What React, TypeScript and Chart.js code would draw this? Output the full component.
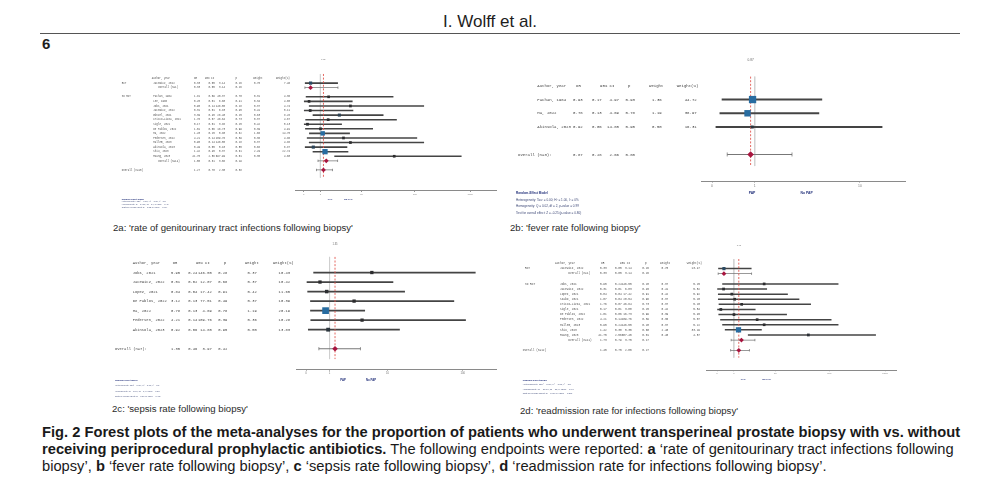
import React, { useEffect, useRef } from 'react';
import { Chart, registerables } from 'chart.js';

Chart.register(...registerables);

// ---------------- shared text ----------------
const HEADERS = ['Author, year', 'OR', '95% CI', 'p', 'Weight', 'Weight(%)'];
const AXIS_LABELS = ['PAP', 'No PAP'];
const MODEL_TITLE = 'Random-Effect Model';

// ---------------- 2a ----------------
const A_NAME = ['Jacewicz, 2022', 'Overall (n=1)', 'Pachan, 1984', 'Lee, 1986', 'Jobs, 2021', 'Jacewicz, 2022', 'Günzel, 2021', 'Cricco-Lizza, 2021', 'Sigle, 2021', 'De Pablos, 2022', 'Ma, 2022', 'Pedersen, 2022', 'Mallem, 2023', 'Akinsola, 2023', 'Shiu, 2023', 'Huang, 2023', 'Overall (n=14)', 'Overall (n=15)'];
const A_KIND = ['s', 'sub', 's', 's', 's', 's', 's', 's', 's', 's', 's', 's', 's', 's', 's', 's', 'sub', 'tot'];
const A_GROUP = ['RCT', '', 'no RCT', '', '', '', '', '', '', '', '', '', '', '', '', '', '', ''];
const A_OR = [0.33, 0.33, 1.81, 0.25, 5.95, 0.31, 3.39, 1.76, 0.17, 1.01, 1.20, 4.21, 5.95, 0.49, 1.42, 41.75, 1.55, 1.27];
const A_LO = [0.05, 0.05, 0.09, 0.01, 0.24, 0.01, 0.45, 0.07, 0.01, 0.06, 0.25, 0.14, 0.24, 0.05, 0.45, 2.56, 0.81, 0.70];
const A_HI = [3.14, 3.14, 40.37, 6.60, 146.55, 6.83, 26.40, 46.64, 3.88, 16.73, 5.80, 109.76, 146.55, 5.10, 5.37, 697.99, 3.08, 2.30];
const A_P = [0.26, 0.26, 0.70, 0.41, 0.28, 0.45, 0.25, 0.73, 0.25, 0.99, 0.82, 0.39, 0.28, 0.55, 0.61, 0.01, 0.19, 0.38];
const A_W = [0.75, null, 0.31, 0.34, 0.37, 0.41, 0.63, 0.37, 0.42, 0.39, 1.66, 0.36, 0.37, 0.68, 2.29, 0.35, null, null];
const A_WP = [7.46, null, 4.36, 4.65, 4.74, 5.11, 8.28, 4.67, 5.13, 4.91, 14.75, 4.86, 4.88, 6.87, 22.74, 4.60, null, null];
const A_TICKS = [0, 1, 10, 100, 1000];
const A_STATS = ['Heterogeneity: Tau² = 0.00; H² = 1.00, I² = 0%', 'Homogeneity: Q = 14.71, df = 14, p-value = 0.40', 'Test for overall effect: Z = 0.83 (p-value = 0.41)'];

// ---------------- 2b ----------------
const B_NAME = ['Pachan, 1984', 'Ma, 2022', 'Akinsola, 2023', 'Overall (n=3):'];
const B_KIND = ['s', 's', 's', 'tot'];
const B_GROUP = ['', '', '', ''];
const B_OR = [0.93, 0.78, 0.92, 0.87];
const B_LO = [0.17, 0.13, 0.06, 0.28];
const B_HI = [4.97, 4.69, 14.85, 2.66];
const B_P = [0.93, 0.78, 0.95, 0.80];
const B_W = [1.36, 1.19, 0.50, null];
const B_WP = [44.72, 38.97, 16.31, null];
const B_TICKS = [0, 1, 10];
const B_STATS = ['Heterogeneity: Tau² = 0.00; H² = 1.00, I² = 0%', 'Homogeneity: Q = 0.02, df = 2, p-value = 0.99', 'Test for overall effect: Z = -0.25 (p-value = 0.80)'];

// ---------------- 2c ----------------
const C_NAME = ['Jobs, 2021', 'Jacewicz, 2022', 'Lopez, 2021', 'De Pablos, 2022', 'Ma, 2022', 'Pedersen, 2022', 'Akinsola, 2023', 'Overall (n=7):'];
const C_KIND = ['s', 's', 's', 's', 's', 's', 's', 'tot'];
const C_GROUP = ['', '', '', '', '', '', '', ''];
const C_OR = [5.95, 0.51, 0.84, 3.12, 0.78, 4.21, 0.92, 1.35];
const C_LO = [0.24, 0.02, 0.04, 0.13, 0.13, 0.14, 0.06, 0.46];
const C_HI = [146.55, 12.07, 17.42, 77.51, 4.69, 109.76, 14.85, 3.97];
const C_P = [0.28, 0.68, 0.91, 0.49, 0.78, 0.39, 0.95, 0.42];
const C_W = [0.37, 0.37, 0.42, 0.37, 1.19, 0.36, 0.50, null];
const C_WP = [10.43, 10.42, 11.65, 10.39, 20.19, 10.28, 13.83, null];
const C_TICKS = [0, 1, 10, 100];
const C_STATS = ['Heterogeneity: Tau² = 0.00; H² = 1.00, I² = 0%', 'Homogeneity: Q = 2.40, df = 6, p-value = 0.88', 'Test for overall effect: Z = 0.80 (p-value = 0.42)'];

// ---------------- 2d ----------------
const D_NAME = ['Jacewicz, 2022', 'Overall (n=1)', 'Jobs, 2021', 'Jacewicz, 2022', 'Lopez, 2021', 'Szabo, 2021', 'Cricco-Lizza, 2021', 'Sigle, 2021', 'De Pablos, 2022', 'Pedersen, 2022', 'Mallem, 2023', 'Shiu, 2023', 'Huang, 2023', 'Overall (n=11)', 'Overall (n=12)'];
const D_KIND = ['s', 'sub', 's', 's', 's', 's', 's', 's', 's', 's', 's', 's', 's', 'sub', 'tot'];
const D_GROUP = ['RCT', '', 'no RCT', '', '', '', '', '', '', '', '', '', '', '', ''];
const D_OR = [0.33, 0.33, 5.95, 0.31, 0.84, 1.07, 1.76, 0.17, 1.01, 4.21, 5.95, 1.42, 41.75, 1.73, 1.45];
const D_LO = [0.05, 0.05, 0.24, 0.01, 0.04, 0.04, 0.07, 0.01, 0.06, 0.14, 0.24, 0.38, 2.56, 0.79, 0.75];
const D_HI = [3.14, 3.14, 146.55, 6.83, 17.42, 28.54, 46.64, 3.88, 16.73, 109.76, 146.55, 5.30, 687.40, 3.75, 2.80];
const D_P = [0.26, 0.26, 0.28, 0.45, 0.91, 0.96, 0.73, 0.25, 0.99, 0.39, 0.28, 0.60, 0.01, 0.17, 0.27];
const D_W = [0.75, null, 0.37, 0.41, 0.42, 0.37, 0.37, 0.42, 0.39, 0.36, 0.37, 2.40, 0.45, null, null];
const D_WP = [13.47, null, 5.25, 5.82, 5.92, 5.20, 5.20, 5.84, 5.45, 5.07, 5.22, 33.29, 4.87, null, null];
const D_TICKS = [0, 1, 10, 100, 1000];
const D_STATS = ['Heterogeneity: Tau² = 0.00; H² = 1.00, I² = 0%', 'Homogeneity: Q = 10.84, df = 11, p-value = 0.46', 'Test for overall effect: Z = 1.08 (p-value = 0.28)'];

// ---------------- captions ----------------
const CAPTION_A = "2a: 'rate of genitourinary tract infections following biopsy'";
const CAPTION_B = "2b: 'fever rate following biopsy'";
const CAPTION_C = "2c: 'sepsis rate following biopsy'";
const CAPTION_D = "2d: 'readmission rate for infections following biopsy'";

// ---------------- layout (positions / styles) ----------------
const LAYOUT_A = {
  box: [110, 50, 395, 166], plot: [295, 496, 61, 190.7], origin: 303.7, ppu: 55.5,
  row0: 66.7, step: 5.715, font: 2.55, txt: '#4e4e4e',
  groupX: 121.7, nameX: 153.3, subX: 158.3, totX: 121.7,
  headX: [151.7, 194, 205, 235.5, 253.3, 276], colR: [200, 214.7, 225, 241.7, 260, 290],
  ci: 1.6, sqA: 2.2, sqB: 1.35, dia: 2.4, cap: 1.2, tickFont: 2.4, axisH: 6, tickLen: 1.2, tickPad: 0.8,
  pap: [330, 348.3, 199.3], papFont: 2.4, stats: [121.7, 199, 2.7], statFont: 2.2, topY: 59, topFont: 2.2,
};
const LAYOUT_B = {
  box: [508, 52, 405, 168], plot: [701, 905, 61.7, 181], origin: 712, ppu: 142,
  row0: 74, step: 18.3, font: 4, txt: '#3d3d3d',
  groupX: 518, nameX: 537.3, subX: 537.3, totX: 518,
  headX: [537.3, 576, 600, 628, 649, 676.7], colR: [582.7, 601.7, 619, 635, 661.7, 696.7],
  ci: 2, sqA: 0.5, sqB: 5, dia: 3.3, cap: 2, tickFont: 3.4, axisH: 8, tickLen: 1.5, tickPad: 1.2,
  pap: [752, 806.7, 193.5], papFont: 3.4, stats: [516, 193.5, 6.4], statFont: 3.1, topY: 60, topFont: 3.2,
};
const LAYOUT_C = {
  box: [110, 236, 395, 166], plot: [296, 496.7, 246.7, 369.3], origin: 306, ppu: 78.2,
  row0: 254, step: 11.43, font: 3.8, txt: '#454545',
  groupX: 115, nameX: 132.7, subX: 132.7, totX: 115,
  headX: [132.7, 172.7, 196, 224, 245, 273], colR: [180, 197.3, 211.7, 227.3, 256.7, 290],
  ci: 1.8, sqA: 1.76, sqB: 4.15, dia: 2.8, cap: 1.6, tickFont: 2.8, axisH: 7, tickLen: 1.3, tickPad: 1,
  pap: [343, 371, 380], papFont: 2.8, stats: [115, 380, 5.6], statFont: 2.2, topY: 244, topFont: 2.6,
};
const LAYOUT_D = {
  box: [515, 238, 390, 162], plot: [706, 896.7, 246.7, 370], origin: 717, ppu: 56,
  row0: 252.3, step: 6.38, font: 2.8, txt: '#4e4e4e',
  groupX: 525, nameX: 560, subX: 568.3, totX: 522.7,
  headX: [555, 601, 620, 645, 660, 686.7], colR: [606.7, 621.7, 631.7, 649, 668.3, 700],
  ci: 1.5, sqA: 2.2, sqB: 1.28, dia: 2.4, cap: 1.2, tickFont: 2.5, axisH: 6, tickLen: 1.2, tickPad: 0.8,
  pap: [743.3, 766.7, 379], papFont: 2.5, stats: [522.7, 380, 4.5], statFont: 2.4, topY: 245, topFont: 2.2,
};

const PANELS = [
  { name: A_NAME, kind: A_KIND, group: A_GROUP, or: A_OR, lo: A_LO, hi: A_HI, p: A_P, w: A_W, wp: A_WP, ticks: A_TICKS, stats: A_STATS, L: LAYOUT_A },
  { name: B_NAME, kind: B_KIND, group: B_GROUP, or: B_OR, lo: B_LO, hi: B_HI, p: B_P, w: B_W, wp: B_WP, ticks: B_TICKS, stats: B_STATS, L: LAYOUT_B },
  { name: C_NAME, kind: C_KIND, group: C_GROUP, or: C_OR, lo: C_LO, hi: C_HI, p: C_P, w: C_W, wp: C_WP, ticks: C_TICKS, stats: C_STATS, L: LAYOUT_C },
  { name: D_NAME, kind: D_KIND, group: D_GROUP, or: D_OR, lo: D_LO, hi: D_HI, p: D_P, w: D_W, wp: D_WP, ticks: D_TICKS, stats: D_STATS, L: LAYOUT_D },
];

const MONO = '"Liberation Mono", "DejaVu Sans Mono", monospace';
const SANS = '"Liberation Sans", Arial, sans-serif';
const NAVY = '#22307a';
const CRIMSON = '#a8153f';

const tf = (v: number) => Math.log10(1 + v);
const fmt = (v: number) => v.toFixed(2);

function rowIndex(kind: string[]) {
  const out: number[] = [];
  let idx = 1;
  kind.forEach((k, i) => {
    if (k === 'tot') idx++;
    else if (k === 's' && i > 0 && kind[i - 1] === 'sub') idx++;
    out.push(idx);
    idx++;
  });
  return out;
}

function weightColor(w: number) {
  const t = Math.max(0, Math.min(1, (w - 0.4) / 0.75));
  const a = [44, 44, 46];
  const b = [40, 108, 160];
  const c = a.map((v, i) => Math.round(v + (b[i] - v) * t));
  return `rgb(${c[0]},${c[1]},${c[2]})`;
}

function buildConfig(P: any) {
  const L = P.L;
  const [bx, by, bw, bh] = L.box;
  const [x0, x1, top, axisY] = L.plot;
  const idx = rowIndex(P.kind);
  const all = P.kind.map((_: string, i: number) => i);
  const S = all.filter((i: number) => P.kind[i] === 's');
  const O = all.filter((i: number) => P.kind[i] !== 's');
  const totI = P.kind.indexOf('tot');
  const xMin = (x0 - L.origin) / L.ppu;
  const xMax = (x1 - L.origin) / L.ppu;
  const yMin = (top - L.row0) / L.step;
  const yMax = (axisY - L.row0) / L.step;

  const drawText = (chart: any) => {
    const ctx = chart.ctx;
    const ys = chart.scales.y;
    const xs = chart.scales.x;
    const X = (px: number) => px - bx;
    const Y = (py: number) => py - by;
    ctx.save();
    ctx.textBaseline = 'middle';
    ctx.font = `${L.font}px ${MONO}`;
    ctx.fillStyle = L.txt;
    ctx.textAlign = 'left';
    const hy = ys.getPixelForValue(0);
    HEADERS.forEach((h, i) => ctx.fillText(h, X(L.headX[i]), hy));
    P.name.forEach((nm: string, i: number) => {
      const y = ys.getPixelForValue(idx[i]);
      const k = P.kind[i];
      ctx.textAlign = 'left';
      if (P.group[i]) ctx.fillText(P.group[i], X(L.groupX), y);
      const nx = k === 's' ? L.nameX : k === 'sub' ? L.subX : L.totX;
      ctx.fillText(nm, X(nx), y);
      ctx.textAlign = 'right';
      const vals = [P.or[i], P.lo[i], P.hi[i], P.p[i], P.w[i], P.wp[i]];
      vals.forEach((v: number | null, j: number) => {
        if (v !== null && v !== undefined) ctx.fillText(fmt(v), X(L.colR[j]), y);
      });
    });
    ctx.textAlign = 'center';
    ctx.fillStyle = '#6a6a6a';
    ctx.font = `${L.topFont}px ${SANS}`;
    ctx.fillText(fmt(P.or[totI]), xs.getPixelForValue(tf(P.or[totI])), Y(L.topY));
    ctx.fillStyle = NAVY;
    ctx.font = `bold ${L.papFont}px ${SANS}`;
    ctx.fillText(AXIS_LABELS[0], X(L.pap[0]), Y(L.pap[2]));
    ctx.fillText(AXIS_LABELS[1], X(L.pap[1]), Y(L.pap[2]));
    ctx.textAlign = 'left';
    ctx.font = `bold ${L.statFont}px ${SANS}`;
    ctx.fillStyle = NAVY;
    ctx.fillText(MODEL_TITLE, X(L.stats[0]), Y(L.stats[1]));
    ctx.font = `${L.statFont}px ${SANS}`;
    ctx.fillStyle = '#3f4a78';
    P.stats.forEach((s: string, i: number) => ctx.fillText(s, X(L.stats[0]), Y(L.stats[1] + (i + 1) * L.stats[2])));
    ctx.restore();
  };

  const sqSide = (w: number) => L.sqA + L.sqB * w;

  return {
    type: 'scatter',
    data: {
      datasets: [
        {
          type: 'scatter', order: 0, clip: false,
          data: S.map((i: number) => ({ x: tf(P.or[i]), y: idx[i] })),
          pointStyle: 'rect',
          pointRadius: S.map((i: number) => sqSide(P.w[i]) / Math.SQRT2),
          backgroundColor: S.map((i: number) => weightColor(P.w[i])),
          borderWidth: 0,
        },
        {
          type: 'scatter', order: 0, clip: false,
          data: O.map((i: number) => ({ x: tf(P.or[i]), y: idx[i] })),
          pointStyle: 'rectRot', pointRadius: L.dia,
          backgroundColor: CRIMSON, borderWidth: 0,
        },
        {
          type: 'line', order: 1, clip: false,
          data: [{ x: tf(P.or[totI]), y: yMin }, { x: tf(P.or[totI]), y: yMax }],
          borderColor: '#e2574f', borderWidth: 0.9, borderDash: [2, 1.6], pointRadius: 0,
        },
        {
          type: 'scatter', order: 2, clip: false,
          data: O.flatMap((i: number) => [{ x: tf(P.lo[i]), y: idx[i] }, { x: tf(P.hi[i]), y: idx[i] }]),
          pointStyle: 'line', rotation: 90, pointRadius: L.cap,
          borderColor: '#6a6a6a', borderWidth: 0.7,
        },
        {
          type: 'bar', order: 2, indexAxis: 'y', grouped: false, inflateAmount: 0,
          data: S.map((i: number) => ({ x: [tf(P.lo[i]), tf(P.hi[i])], y: idx[i] })),
          backgroundColor: '#444444', barThickness: L.ci,
        },
        {
          type: 'bar', order: 2, indexAxis: 'y', grouped: false, inflateAmount: 0,
          data: O.map((i: number) => ({ x: [tf(P.lo[i]), tf(P.hi[i])], y: idx[i] })),
          backgroundColor: '#777777', barThickness: Math.max(0.7, L.ci * 0.5),
        },
        {
          type: 'line', order: 3, clip: false,
          data: [{ x: tf(1), y: yMin }, { x: tf(1), y: yMax }],
          borderColor: '#cfcfcf', borderWidth: 0.8, pointRadius: 0,
        },
      ],
    },
    options: {
      responsive: false,
      animation: false,
      events: [],
      layout: {
        autoPadding: false,
        padding: { left: x0 - bx, right: bx + bw - x1, top: top - by, bottom: by + bh - axisY - L.axisH },
      },
      plugins: { legend: { display: false }, tooltip: { enabled: false } },
      scales: {
        x: {
          type: 'linear', min: xMin, max: xMax,
          afterBuildTicks: (s: any) => { s.ticks = P.ticks.map((v: number) => ({ value: tf(v) })); },
          afterFit: (s: any) => { s.height = L.axisH; },
          ticks: {
            autoSkip: false, maxRotation: 0, padding: L.tickPad, color: '#7a7a7a',
            font: { size: L.tickFont, family: SANS },
            callback: (_v: any, i: number) => String(P.ticks[i]),
          },
          grid: { display: true, drawOnChartArea: false, drawTicks: true, tickLength: L.tickLen, color: '#8a8a8a' },
          border: { display: true, color: '#8a8a8a', width: 1 },
        },
        y: { type: 'linear', display: false, reverse: true, min: yMin, max: yMax },
      },
    },
    plugins: [{ id: 'forestText', afterDraw: drawText }],
  };
}

function Forest({ panel }: { panel: any }) {
  const ref = useRef<HTMLCanvasElement>(null);
  useEffect(() => {
    const chart = new Chart(ref.current as HTMLCanvasElement, buildConfig(panel) as any);
    return () => chart.destroy();
  }, [panel]);
  const [l, t, w, h] = panel.L.box;
  return <canvas ref={ref} width={w} height={h} style={{ position: 'absolute', left: l, top: t, width: w, height: h }} />;
}

const capStyle = (left: number, top: number): React.CSSProperties => ({
  position: 'absolute', left, top, fontSize: 9.6, color: '#2a2a2a', whiteSpace: 'nowrap', lineHeight: '12px',
});

export default function App() {
  return (
    <div style={{ position: 'absolute', left: 0, top: 0, width: 1000, height: 493, background: '#fff', overflow: 'hidden', fontFamily: SANS, color: '#1e1e1e' }}>
      <div style={{ position: 'absolute', left: 0, width: 980, top: 12, textAlign: 'center', fontSize: 17, lineHeight: '20px' }}>I. Wolff et al.</div>
      <div style={{ position: 'absolute', left: 40, top: 33, width: 920, height: 1, background: '#555' }} />
      <div style={{ position: 'absolute', left: 42, top: 35, fontSize: 15, fontWeight: 'bold', lineHeight: '18px' }}>6</div>
      {PANELS.map((p, i) => <Forest key={i} panel={p} />)}
      <div style={capStyle(113, 222)}>{CAPTION_A}</div>
      <div style={capStyle(510, 222)}>{CAPTION_B}</div>
      <div style={capStyle(112, 403)}>{CAPTION_C}</div>
      <div style={capStyle(520, 405)}>{CAPTION_D}</div>
      <div style={{ position: 'absolute', left: 42, top: 424, fontSize: 14.7, lineHeight: '17px', whiteSpace: 'nowrap', color: '#1a1a1a' }}>
        <div><b>Fig. 2 Forest plots of the meta-analyses for the proportion of patients who underwent transperineal prostate biopsy with vs. without</b></div>
        <div><b>receiving periprocedural prophylactic antibiotics.</b> The following endpoints were reported: <b>a</b> ‘rate of genitourinary tract infections following</div>
        <div>biopsy’, <b>b</b> ‘fever rate following biopsy’, <b>c</b> ‘sepsis rate following biopsy’, <b>d</b> ‘readmission rate for infections following biopsy’.</div>
      </div>
    </div>
  );
}
